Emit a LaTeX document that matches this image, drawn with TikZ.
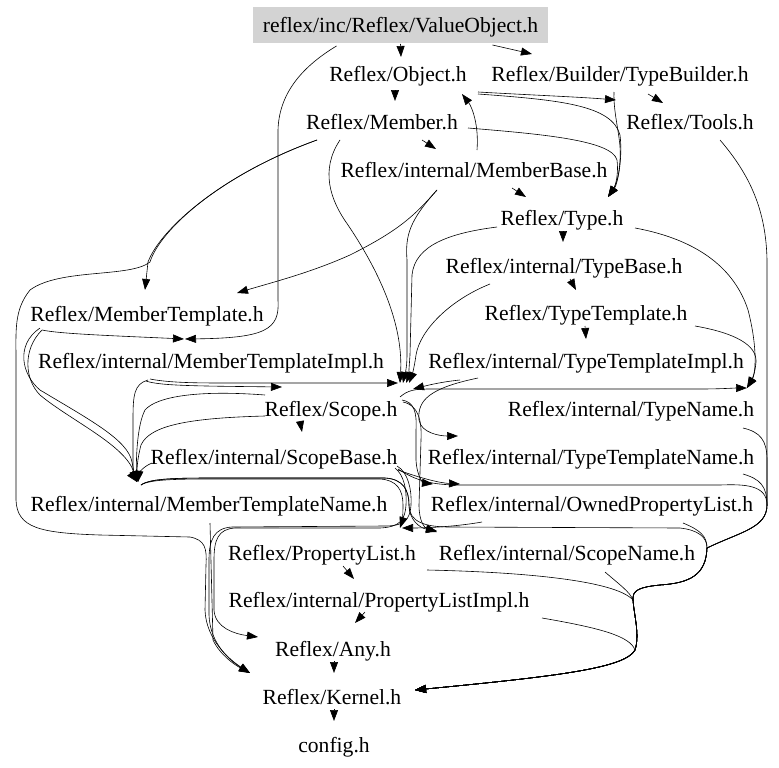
\documentclass[tikz,border=0pt]{standalone}
\usepackage{fontspec}
\setmainfont{Liberation Serif}
\usetikzlibrary{arrows.meta,calc}
\definecolor{boxgray}{RGB}{211,211,211}
\tikzset{
  lbl/.style={inner xsep=1bp, inner ysep=4bp, text height=17.5bp, text depth=2.5bp, font=\fontsize{21.6bp}{25bp}\selectfont},
  rootbox/.style={lbl, fill=boxgray, minimum width=295bp, minimum height=36bp},
  e/.style={draw=black, line width=0.6bp, -{Triangle[length=11bp,width=8bp]}}
}
\begin{document}
\begin{tikzpicture}[x=1bp,y=-1bp]
\useasboundingbox (0,0) rectangle (779,768);
\node[rootbox] (vo) at (400.5,25) {reflex/inc/Reflex/ValueObject.h};
\node[lbl] (obj) at (398,74) {Reflex/Object.h};
\node[lbl] (tb) at (620,74) {Reflex/Builder/TypeBuilder.h};
\node[lbl] (mem) at (382,122) {Reflex/Member.h};
\node[lbl] (tools) at (690,122) {Reflex/Tools.h};
\node[lbl] (mb) at (474,170) {Reflex/internal/MemberBase.h};
\node[lbl] (type) at (562,218) {Reflex/Type.h};
\node[lbl] (tbase) at (564,266) {Reflex/internal/TypeBase.h};
\node[lbl] (mt) at (147,314) {Reflex/MemberTemplate.h};
\node[lbl] (tt) at (586,313) {Reflex/TypeTemplate.h};
\node[lbl] (mti) at (211,361) {Reflex/internal/MemberTemplateImpl.h};
\node[lbl] (tti) at (586,361) {Reflex/internal/TypeTemplateImpl.h};
\node[lbl] (scope) at (331,409) {Reflex/Scope.h};
\node[lbl] (tn) at (631,409) {Reflex/internal/TypeName.h};
\node[lbl] (sb) at (274,457) {Reflex/internal/ScopeBase.h};
\node[lbl] (ttn) at (591,457) {Reflex/internal/TypeTemplateName.h};
\node[lbl] (mtn) at (209,504) {Reflex/internal/MemberTemplateName.h};
\node[lbl] (opl) at (592,504) {Reflex/internal/OwnedPropertyList.h};
\node[lbl] (pl) at (322,553) {Reflex/PropertyList.h};
\node[lbl] (sn) at (567,553) {Reflex/internal/ScopeName.h};
\node[lbl] (pli) at (379,600) {Reflex/internal/PropertyListImpl.h};
\node[lbl] (any) at (333,649) {Reflex/Any.h};
\node[lbl] (kern) at (332,697) {Reflex/Kernel.h};
\node[lbl] (cfg) at (334,745) {config.h};
\coordinate (ra) at (767,505);
\coordinate (rb) at (707,548);
\coordinate (rc) at (633,600);
\coordinate (rd) at (635,650);
% top
\draw[e] ($(vo)+(0,19)$) -- ($(obj)+(3,-17)$);
\draw[e] ($(vo)+(92,20)$) -- ($(tb)+(-88,-20)$);
\draw[e] ($(vo)+(-64,21)$) .. controls (300,68) and (279,95) .. (278,130) -- (278,300) .. controls (280,330) and (265,338) .. ($(mti)+(-26,-22)$);
\draw[e] ($(obj)+(-3,16)$) -- ($(mem)+(13,-21)$);
\draw[e] ($(obj)+(80,18)$) .. controls (530,95) and (580,97) .. ($(tools)+(-74,-22)$);
\draw[e] ($(obj)+(80,20)$) .. controls (560,100) and (612,105) .. (620,135) .. controls (623,160) and (617,185) .. ($(type)+(46,-21)$);
\draw[e] ($(tb)+(-6,18)$) .. controls (613,115) and (622,140) .. (620,160) .. controls (619,180) and (614,188) .. ($(type)+(46,-21)$);
\draw[e] ($(mem)+(86,6)$) .. controls (540,134) and (612,140) .. (617,160) .. controls (619,178) and (614,188) .. ($(type)+(46,-21)$);
\draw[e] ($(tb)+(28,20)$) -- ($(tools)+(-27,-19)$);
\draw[e] ($(mb)+(3,-20)$) .. controls (479,125) and (472,107) .. ($(obj)+(64,20)$);
\draw[e] ($(mem)+(40,18)$) -- ($(mb)+(-38,-21)$);
\draw[e] ($(mb)+(38,18)$) -- ($(type)+(-36,-21)$);
\draw[e] ($(type)+(1,13)$) -- ($(tbase)+(-1,-24)$);
\draw[e] ($(tbase)+(6,13)$) -- ($(tt)+(-10,-23)$);
\draw[e] ($(tt)+(-1,13)$) -- ($(tti)+(0,-22)$);
% member side
\draw[e] ($(mem)+(-65,18)$) .. controls (220,175) and (160,230) .. (148,262) -- ($(mt)+(-2,-24)$);
\draw[e] ($(mem)+(-65,18)$) .. controls (220,175) and (160,230) .. (150,262) .. controls (130,278) and (60,268) .. (30,290) .. controls (14,310) and (16,330) .. (16,360) -- (16,500) .. controls (17,528) and (40,533) .. (100,535) -- (190,537) .. controls (205,540) and (207,548) .. (206,565) -- (205,610) .. controls (206,640) and (230,660) .. ($(kern)+(-82,-24)$);
\draw[e] ($(mtn)+(1,19)$) -- (213,640) .. controls (220,655) and (235,665) .. ($(kern)+(-82,-24)$);
\draw[e] ($(mt)+(-107,14)$) .. controls (15,345) and (22,375) .. (40,390) .. controls (90,420) and (128,440) .. (132,462) .. controls (134,472) and (135,476) .. ($(mtn)+(-72,-22)$);
\draw[e] ($(mt)+(-105,16)$) .. controls (22,350) and (25,380) .. (40,395) .. controls (70,420) and (125,445) .. ($(mtn)+(-72,-22)$);
\draw[e] ($(mt)+(-105,16)$) .. controls (60,334) and (120,336) .. ($(mti)+(-27,-22)$);
\draw[e] ($(mb)+(-37,20)$) .. controls (415,215) and (400,230) .. (350,255) .. controls (310,273) and (270,283) .. ($(mt)+(90,-21)$);
\draw[e] ($(mb)+(-37,20)$) .. controls (410,220) and (405,235) .. (407,260) -- (407,355) .. controls (407,370) and (404,378) .. ($(scope)+(72,-26)$);
\draw[e] ($(mem)+(-42,18)$) .. controls (320,170) and (330,200) .. (348,225) .. controls (385,280) and (403,330) .. ($(scope)+(69,-26)$);
\draw[e] ($(type)+(-65,9)$) .. controls (450,233) and (415,245) .. (412,275) -- (410,355) .. controls (409,370) and (408,378) .. ($(scope)+(75,-26)$);
\draw[e] ($(tbase)+(-74,18)$) .. controls (450,300) and (420,330) .. (416,355) .. controls (414,370) and (411,378) .. ($(scope)+(78,-26)$);
\draw[e] ($(tti)+(-126,19)$) .. controls (440,382) and (425,386) .. ($(scope)+(82,-20)$);
\draw[e] ($(tti)+(-108,17)$) .. controls (430,388) and (417,400) .. (419,420) .. controls (421,433) and (440,436) .. ($(ttn)+(-133,-21)$);
% left bundle
\draw[e] ($(mti)+(-61,18)$) .. controls (170,383) and (200,383) .. (230,383) -- ($(scope)+(67,-26)$);
\draw[e] ($(mti)+(-65,20)$) .. controls (160,386) and (200,386) .. ($(scope)+(-49,-22)$);
\draw[e] ($(mti)+(-63,19)$) .. controls (134,384) and (133,395) .. (133,420) -- (133,465) .. controls (133,475) and (134,478) .. ($(mtn)+(-72,-22)$);
\draw[e] ($(scope)+(-66,7)$) .. controls (190,418) and (150,425) .. (141,445) .. controls (137,460) and (137,470) .. ($(mtn)+(-71,-22)$);
\draw[e] ($(scope)+(-66,-14)$) .. controls (200,390) and (157,396) .. (145,410) .. controls (137,425) and (136,460) .. ($(mtn)+(-72,-22)$);
\draw[e] ($(sb)+(-122,6)$) .. controls (142,467) and (139,474) .. ($(mtn)+(-71,-22)$);
\draw[e] ($(scope)+(-31,12)$) -- ($(sb)+(28,-25)$);
% lower middle bundle
\draw[e] ($(mtn)+(-68,-19)$) .. controls (150,479) and (180,479) .. (220,479) -- (380,479) .. controls (397,480) and (403,490) .. (403,505) .. controls (403,516) and (402,522) .. ($(pl)+(78,-25)$);
\draw[e] ($(mtn)+(-68,-19)$) .. controls (150,478) and (180,478) .. (220,478) -- (385,478) .. controls (403,479) and (409,490) .. (409,505) .. controls (409,520) and (420,528) .. ($(sn)+(-130,-22)$);
\draw[e] ($(sb)+(121,11)$) .. controls (404,475) and (407,490) .. (406,505) .. controls (405,520) and (400,527) .. (380,528) -- (235,528) .. controls (218,529) and (214,540) .. (214,560) -- (214,610) .. controls (215,628) and (235,634) .. ($(any)+(-75,-12)$);
\draw[e] ($(sb)+(123,9)$) .. controls (408,472) and (412,490) .. (411,505) .. controls (410,520) and (404,526) .. (385,526) -- (232,527) .. controls (214,528) and (209,540) .. (209,560) -- (209,615) .. controls (210,645) and (232,662) .. ($(kern)+(-82,-24)$);
\draw[e] ($(scope)+(69,-12)$) .. controls (408,390) and (415,389) .. (430,389) -- (700,389) .. controls (720,389) and (735,388) .. ($(tn)+(116,-21)$);
\draw[e] ($(scope)+(71,-9)$) .. controls (414,402) and (417,412) .. (416,430) -- (416,460) .. controls (417,478) and (424,483) .. ($(opl)+(-159,-20)$);
\draw[e] ($(sb)+(124,13)$) .. controls (420,478) and (440,483) .. ($(opl)+(-132,-20)$);
\draw[e] ($(scope)+(72,-7)$) .. controls (418,405) and (422,420) .. (421,440) -- (419,505) .. controls (419,522) and (425,528) .. ($(sn)+(-130,-21)$);
\draw[e] ($(opl)+(-110,18)$) .. controls (460,526) and (430,528) .. ($(pl)+(80,-25)$);
% right side
\draw[e] ($(type)+(73,10)$) .. controls (700,240) and (735,270) .. (748,310) .. controls (756,340) and (757,370) .. ($(tn)+(116,-21)$);
\draw[e] ($(tt)+(109,13)$) .. controls (735,333) and (757,345) .. (756,362) .. controls (755,375) and (751,382) .. ($(tn)+(116,-21)$);
\draw[e] ($(tools)+(30,18)$) .. controls (750,175) and (766,210) .. (767,260) -- (ra) .. controls (767,528) and (740,532) .. (rb) .. controls (706,575) and (690,583) .. (660,585) .. controls (640,587) and (632,590) .. (rc) .. controls (634,615) and (640,635) .. (rd) .. controls (625,668) and (560,676) .. ($(kern)+(83,-7)$);
\draw[e] ($(tn)+(112,19)$) .. controls (760,432) and (767,440) .. (767,460) -- (ra) .. controls (767,528) and (740,532) .. (rb) .. controls (706,575) and (690,583) .. (660,585) .. controls (640,587) and (632,590) .. (rc) .. controls (634,615) and (640,635) .. (rd) .. controls (625,668) and (560,676) .. ($(kern)+(83,-7)$);
\draw[e] ($(ttn)+(152,17)$) .. controls (760,479) and (767,486) .. (ra) .. controls (767,528) and (740,532) .. (rb) .. controls (706,575) and (690,583) .. (660,585) .. controls (640,587) and (632,590) .. (rc) .. controls (634,615) and (640,635) .. (rd) .. controls (625,668) and (560,676) .. ($(kern)+(83,-7)$);
\draw[e] ($(sb)+(124,12)$) .. controls (415,480) and (430,485) .. (460,485) -- (720,485) .. controls (745,484) and (767,485) .. (ra) .. controls (767,528) and (740,532) .. (rb) .. controls (706,575) and (690,583) .. (660,585) .. controls (640,587) and (632,590) .. (rc) .. controls (634,615) and (640,635) .. (rd) .. controls (625,668) and (560,676) .. ($(kern)+(83,-7)$);
\draw[e] ($(opl)+(91,19)$) .. controls (700,530) and (707,536) .. (rb) .. controls (706,575) and (690,583) .. (660,585) .. controls (640,587) and (632,590) .. (rc) .. controls (634,615) and (640,635) .. (rd) .. controls (625,668) and (560,676) .. ($(kern)+(83,-7)$);
\draw[e] ($(mtn)+(-68,-19)$) .. controls (150,478) and (180,478) .. (220,478) -- (385,478) .. controls (403,479) and (409,490) .. (409,505) .. controls (409,522) and (425,527) .. (450,527) -- (680,528) .. controls (698,530) and (707,537) .. (rb) .. controls (706,575) and (690,583) .. (660,585) .. controls (640,587) and (632,590) .. (rc) .. controls (634,615) and (640,635) .. (rd) .. controls (625,668) and (560,676) .. ($(kern)+(83,-7)$);
\draw[e] ($(sn)+(38,19)$) .. controls (620,585) and (630,592) .. (rc) .. controls (634,615) and (640,635) .. (rd) .. controls (625,668) and (560,676) .. ($(kern)+(83,-7)$);
\draw[e] ($(pli)+(163,18)$) .. controls (600,628) and (630,636) .. (rd) .. controls (625,668) and (560,676) .. ($(kern)+(83,-7)$);
\draw[e] ($(pl)+(105,17)$) .. controls (520,572) and (615,580) .. (rc) .. controls (634,615) and (640,635) .. (rd) .. controls (625,668) and (560,676) .. ($(kern)+(83,-7)$);
% bottom chain
\draw[e] ($(pl)+(21,13)$) -- ($(pli)+(-25,-21)$);
\draw[e] ($(pli)+(-14,12)$) -- ($(any)+(22,-26)$);
\draw[e] ($(any)+(1,12)$) -- ($(kern)+(2,-24)$);
\draw[e] ($(kern)+(2,12)$) -- ($(cfg)+(0,-24)$);
\end{tikzpicture}
\end{document}
